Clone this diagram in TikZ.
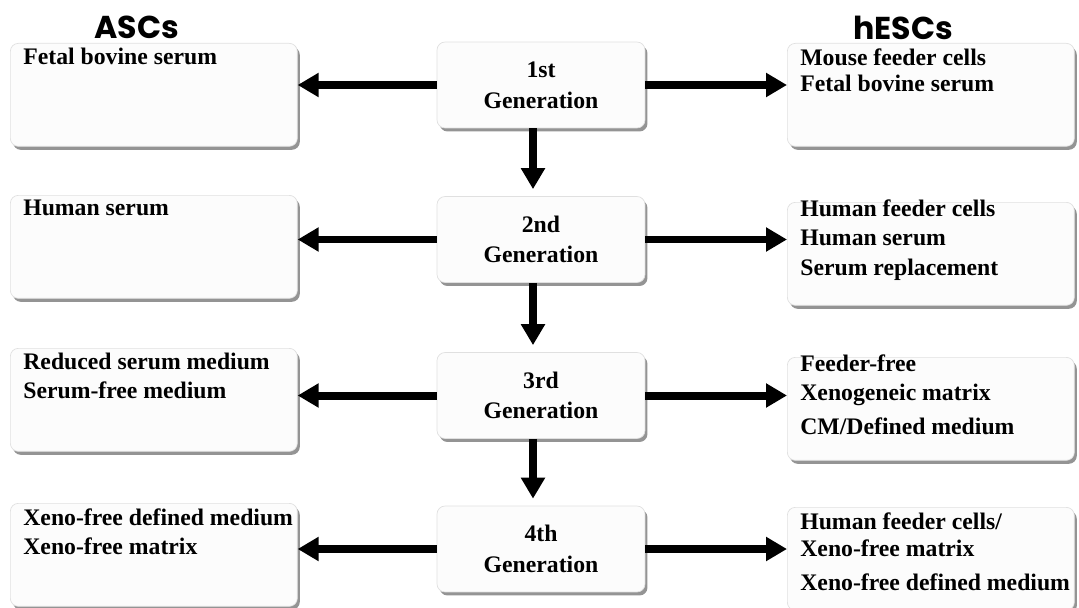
\documentclass[tikz,border=0pt]{standalone}
\usepackage{fontspec}
\setmainfont{Liberation Serif}
\newfontfamily\titlefont{Poppins}
\usetikzlibrary{positioning, arrows.meta, shadows}

\tikzset{
    sidebox/.style={rectangle, rounded corners=0.16cm, fill=black!1, draw=black!12, anchor=north west,
        drop shadow={shadow xshift=0.05cm, shadow yshift=-0.07cm, fill=black!70, opacity=0.6},
        inner xsep=0.26cm, inner ysep=0.1cm, font=\fontsize{13.5}{16.5}\selectfont\bfseries},
    genbox/.style={rectangle, rounded corners=0.16cm, fill=black!1, draw=black!12,
        drop shadow={shadow xshift=0.05cm, shadow yshift=-0.07cm, fill=black!70, opacity=0.6},
        minimum width=4.16cm, minimum height=1.72cm, align=center,
        font=\fontsize{13.5}{17.5}\selectfont\bfseries},
    title/.style={inner sep=0pt, font=\titlefont\bfseries\fontsize{18}{20}\selectfont},
    fatarrow/.style={line width=0.16cm, -{Triangle[width=0.46cm, length=0.42cm]}},
}
\newcommand{\sidetext}[1]{\parbox[t][1.86cm][t]{5.22cm}{\raggedright #1}}

\begin{document}
\begin{tikzpicture}[x=0.02cm, y=-0.02cm]
    \useasboundingbox (0,0) rectangle (1079,608);

    \node[title] (ascs) at (136.5,27.5) {ASCs};
    \node[title] (hescs) at (903,27.5) {hESCs};

    \node[genbox] (g1) at (541,85) {1st\\Generation};
    \node[genbox] (g2) at (541,239.5) {2nd\\Generation};
    \node[genbox] (g3) at (541,395.5) {3rd\\Generation};
    \node[genbox] (g4) at (541,549) {4th\\Generation};

    \node[sidebox] (l1) at (10,43) {\sidetext{Fetal bovine serum}};
    \node[sidebox] (l2) at (10,195) {\sidetext{Human serum}};
    \node[sidebox] (l3) at (10,348) {\sidetext{Reduced serum medium\\Serum-free medium}};
    \node[sidebox] (l4) at (10,503) {\sidetext{\mbox{Xeno-free defined medium}\\Xeno-free matrix}};

    \node[sidebox] (r1) at (787,43) {\sidetext{Mouse feeder cells\\[-1.5pt]Fetal bovine serum}};
    \node[sidebox] (r2) at (787,202) {\sidetext{\vspace*{-0.16cm}Human feeder cells\\Human serum\\[1pt]Serum replacement}};
    \node[sidebox] (r3) at (787,357) {\sidetext{\vspace*{-0.16cm}Feeder-free\\Xenogeneic matrix\\[3pt]CM/Defined medium}};
    \node[sidebox] (r4) at (787,507) {\sidetext{Human feeder cells/\\[-1pt]Xeno-free matrix\\[3pt]\mbox{Xeno-free defined medium}}};

    \draw[fatarrow] (g1.west) -- (g1.west -| l1.east);
    \draw[fatarrow] (g2.west) -- (g2.west -| l2.east);
    \draw[fatarrow] (g3.west) -- (g3.west -| l3.east);
    \draw[fatarrow] (g4.west) -- (g4.west -| l4.east);

    \draw[fatarrow] (g1.east) -- (g1.east -| r1.west);
    \draw[fatarrow] (g2.east) -- (g2.east -| r2.west);
    \draw[fatarrow] (g3.east) -- (g3.east -| r3.west);
    \draw[fatarrow] (g4.east) -- (g4.east -| r4.west);

    \draw[fatarrow, shorten >=0.14cm] ([xshift=-0.16cm]g1.south) -- ([xshift=-0.16cm]g2.north);
    \draw[fatarrow, shorten >=0.14cm] ([xshift=-0.16cm]g2.south) -- ([xshift=-0.16cm]g3.north);
    \draw[fatarrow, shorten >=0.14cm] ([xshift=-0.16cm]g3.south) -- ([xshift=-0.16cm]g4.north);
\end{tikzpicture}
\end{document}
